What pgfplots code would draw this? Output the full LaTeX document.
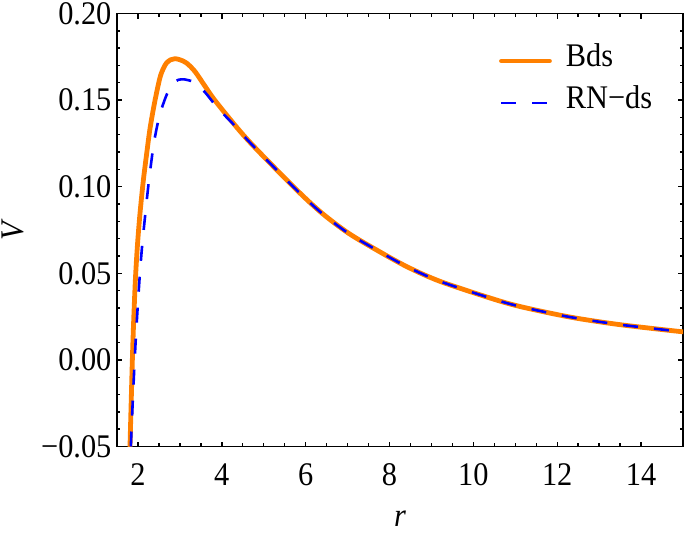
\documentclass[border=0pt]{standalone}
\usepackage{fontspec}
\setmainfont{Liberation Serif}[FakeStretch=0.92]
\usepackage{pgfplots}
\pgfplotsset{compat=1.18}
\usetikzlibrary{calc}
\definecolor{mmaorange}{RGB}{255,128,0}
\definecolor{mmablue}{RGB}{0,0,255}
\newcommand{\bigfont}{\fontsize{16.5}{19}\selectfont}

\begin{document}
\begin{tikzpicture}
\begin{axis}[
    name=ax,
    scale only axis,
    width=283pt, height=216.5pt,
    xmin=1.5, xmax=15,
    ymin=-0.05, ymax=0.2,
    xtick={2,4,...,14},
    ytick={-0.05,0,0.05,0.1,0.15,0.2},
    yticklabels={−0.05,0.00,0.05,0.10,0.15,0.20},
    minor x tick num=3,
    minor y tick num=4,
    tick align=inside,
    major tick length=2.5pt,
    minor tick length=1.6pt,
    axis line style={line width=0.8pt},
    every tick/.style={black, line width=0.7pt},
    /pgf/number format/assume math mode=true,
    tick label style={font=\bigfont},
    xticklabel style={inner sep=0pt, yshift=-8.5pt},
    yticklabel style={inner sep=0pt, xshift=-2.6pt},
    xlabel={\textit{r}},
    ylabel={\textit{V}},
    label style={font=\bigfont},
    xlabel style={at={(rel axis cs:0.5,-0.167)}, anchor=center},
    ylabel style={at={(rel axis cs:-0.184,0.5)}, anchor=center},
    legend style={draw=none, fill=none, font=\bigfont,
        at={(rel axis cs:0.675,0.9388)}, anchor=north west,
        inner sep=0pt, outer sep=0pt, row sep=0pt,
        nodes={inner sep=2pt, text height=11pt, text depth=6pt}},
    legend cell align=left,
    legend image code/.code={\draw[#1] (0pt,0pt) -- (24pt,0pt); \path (29pt,0pt);},
]
\addplot[mmaorange, line width=2.4pt, smooth, line cap=round] coordinates {
 (1.81,-0.05) (1.84,-0.023) (1.87,0.003) (1.90,0.024) (1.94,0.047)
 (1.99,0.067) (2.05,0.085) (2.13,0.104) (2.21,0.1195) (2.29,0.134)
 (2.40,0.149) (2.52,0.1625) (2.60,0.1680) (2.68,0.1714) (2.78,0.1733)
 (2.88,0.1739) (3.00,0.1733) (3.16,0.1714) (3.36,0.1665) (3.60,0.158)
 (3.83,0.150) (4.27,0.1368) (4.60,0.1275) (5.07,0.1156) (5.86,0.0964)
 (6.40,0.0845) (7.00,0.0735) (7.61,0.0646) (8.40,0.054) (9.20,0.0454)
 (10.39,0.0358) (11.10,0.0309) (12.29,0.0248) (13.48,0.0204) (15.00,0.0162)
};
\addlegendentry{Bds}
\addplot[mmablue, line width=1.3pt, smooth, dash pattern=on 7.5pt off 8pt] coordinates {
 (1.83,-0.05) (1.87,-0.027) (1.91,-0.006) (1.95,0.013) (2.00,0.033)
 (2.05,0.051) (2.10,0.066) (2.17,0.083) (2.25,0.101) (2.36,0.122)
 (2.44,0.133) (2.52,0.1415) (2.62,0.149) (2.72,0.155) (2.84,0.1595)
 (2.96,0.1617) (3.10,0.1620) (3.20,0.1615) (3.36,0.160) (3.60,0.1545)
 (3.90,0.1455) (4.27,0.1362) (4.60,0.1273) (5.07,0.1155) (5.86,0.0963)
 (6.40,0.0844) (7.00,0.0734) (7.61,0.0646) (8.40,0.054) (9.20,0.0454)
 (10.39,0.0358) (11.10,0.0309) (12.29,0.0248) (13.48,0.0204) (15.00,0.0162)
};
\addlegendentry{RN−ds}
\coordinate (bl) at (rel axis cs:0,0);
\coordinate (tr) at (rel axis cs:1,1);
\end{axis}
\pgfresetboundingbox
\useasboundingbox ($(bl)+(-58.5pt,-45.25pt)$) rectangle ($(tr)+(1pt,6.75pt)$);
\end{tikzpicture}
\end{document}
